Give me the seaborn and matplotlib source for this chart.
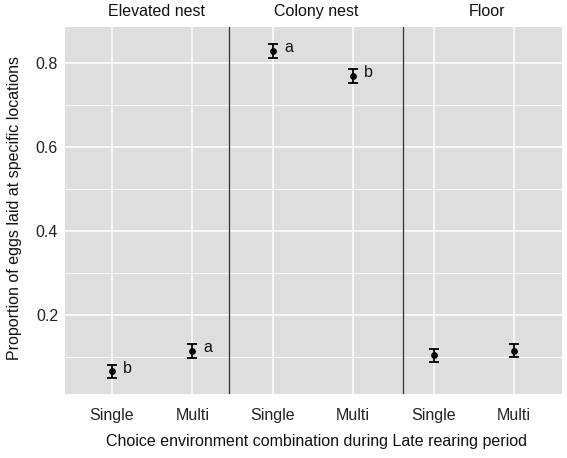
import numpy as np
import pandas as pd
import seaborn as sns
import matplotlib.pyplot as plt

# values (mean +/- error)
locations = ["Elevated nest", "Elevated nest", "Colony nest", "Colony nest", "Floor", "Floor"]
environments = ["Single", "Multi", "Single", "Multi", "Single", "Multi"]
means = [0.066, 0.115, 0.829, 0.769, 0.104, 0.115]
errors = [0.015, 0.017, 0.016, 0.017, 0.016, 0.016]
letters = ["b", "a", "a", "b", "", ""]
facet_names = ["Elevated nest", "Colony nest", "Floor"]

df = pd.DataFrame({"location": locations, "env": environments,
                   "mean": means, "se": errors, "letter": letters})
df["slot"] = df["location"] + " " + df["env"]

sns.set_theme(style="darkgrid")
plt.rcParams["font.family"] = ["Liberation Sans", "DejaVu Sans"]
plt.rcParams["font.size"] = 11

fig = plt.figure(figsize=(5.67, 4.58), dpi=100)
ax = fig.add_axes([0.1146, 0.1397, 0.8766, 0.8013])
ax.set_facecolor("#DEDEDE")

ax.errorbar(df["slot"], df["mean"], yerr=df["se"], fmt="none",
            ecolor="black", elinewidth=1.3, capsize=3.5, capthick=1.3, zorder=3)
sns.scatterplot(data=df, x="slot", y="mean", color="black", s=24,
                edgecolor="black", linewidth=0, ax=ax, zorder=4)

for i, row in df.iterrows():
    if row["letter"]:
        ax.annotate(row["letter"], (i, row["mean"] + row["se"] * 0.5),
                    xytext=(8, 0), textcoords="offset points",
                    fontsize=11.5, va="center", ha="left", color="#111111")

# facet dividers
for xv in [1.46, 3.62]:
    ax.axvline(xv, color="#333333", lw=0.9, zorder=2)

ax.set_xlim(-0.585, 5.597)
ax.set_ylim(0.012, 0.886)
ax.set_yticks([0.2, 0.4, 0.6, 0.8])
ax.set_yticks([0.1, 0.3, 0.5, 0.7], minor=True)
ax.grid(which="major", color="white", lw=1.1)
ax.grid(which="minor", axis="y", color="white", lw=0.6)
ax.set_xticks(range(len(df)))
ax.set_xticklabels(df["env"])
ax.tick_params(axis="both", which="major", length=3, width=0.9,
               color="#333333", labelsize=11.5, labelcolor="#222222")
ax.tick_params(axis="x", pad=7)
ax.tick_params(axis="y", pad=2)
ax.tick_params(axis="y", which="minor", length=0)
for s in ax.spines.values():
    s.set_visible(False)

ax.set_xlabel("Choice environment combination during Late rearing period",
              fontsize=11.5, color="#111111")
ax.set_ylabel("Proportion of eggs laid at specific locations", fontsize=11.5,
              color="#111111")
ax.xaxis.set_label_coords(0.506, -0.109)
ax.yaxis.set_label_coords(-0.0866, 0.508)

# strip labels above the panel
for name, xc in zip(facet_names, [0.55, 2.54, 4.67]):
    ax.text(xc, 1.041, name, transform=ax.get_xaxis_transform(),
            ha="center", va="center", fontsize=11.5, color="#111111")

fig.savefig("out.png", dpi=100)
